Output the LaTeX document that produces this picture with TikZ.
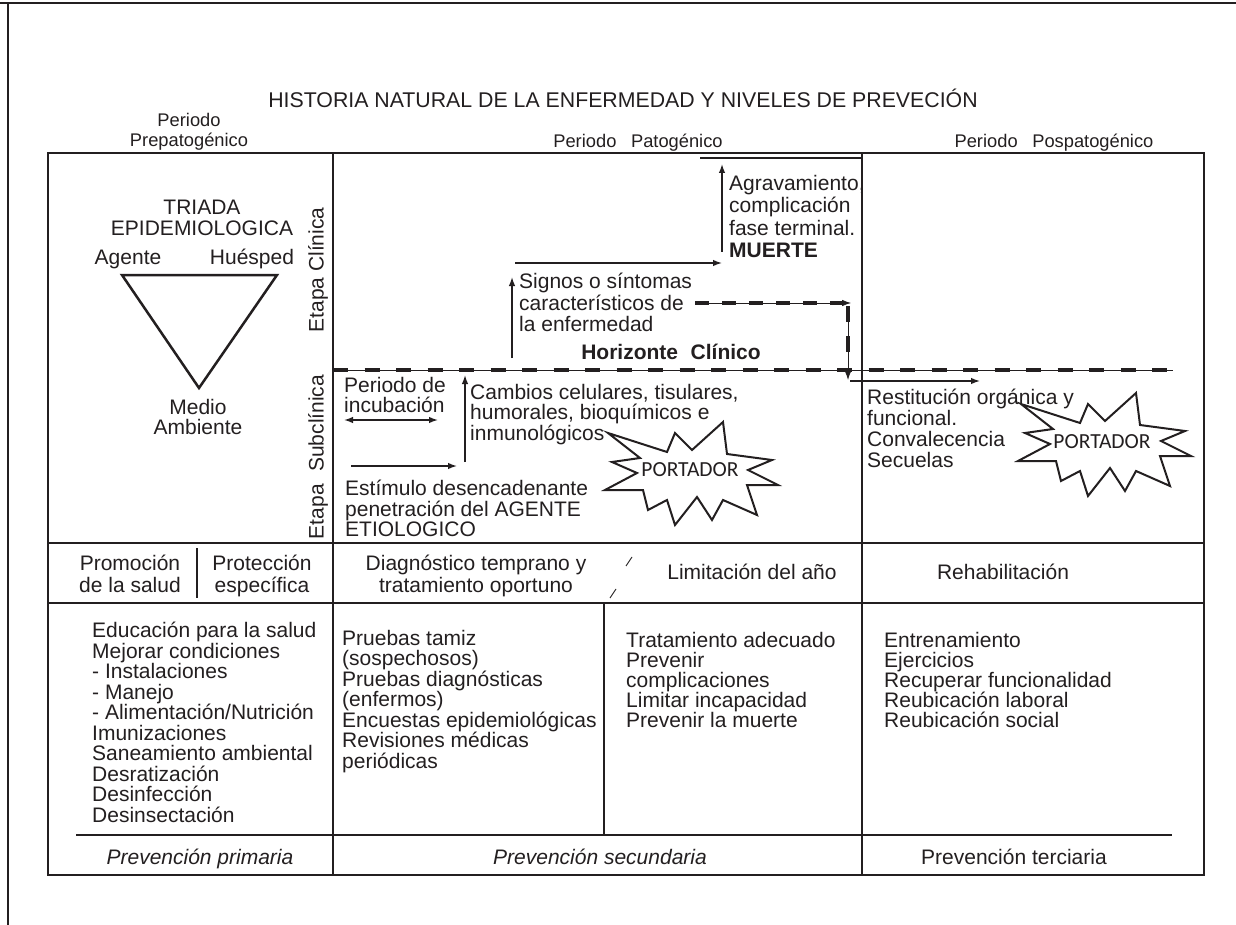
\documentclass[tikz,border=0pt]{standalone}
\usepackage{fontspec}
\setmainfont{Liberation Sans}
\newfontfamily\portfont{Carlito}
\usetikzlibrary{arrows.meta}
\definecolor{ink}{HTML}{231F20}
\tikzset{
  frame/.style={line width=2pt, draw=ink},
  tline/.style={line width=2.2pt, draw=ink},
  body/.style={inner sep=0pt, text=ink, font=\fontsize{21}{20.5}\selectfont},
  bodyl/.style={body, align=left, anchor=north west},
  bodyc/.style={body, align=center, anchor=north},
  bodyb/.style={body, anchor=base},
  head/.style={inner sep=0pt, text=ink, font=\fontsize{18.3}{20}\selectfont},
  tip/.style={-{Latex[length=9pt,width=6.5pt]}},
  arr/.style={draw=ink, line width=1.4pt, tip},
  darr/.style={draw=ink, line width=1.4pt, {Latex[length=9pt,width=6.5pt]}-{Latex[length=9pt,width=6.5pt]}},
  thinln/.style={draw=ink, line width=0.8pt},
  thickdash/.style={draw=ink, line width=4.5pt, dash pattern=on 15pt off 16.5pt},
  starline/.style={draw=ink, line width=2pt, line join=miter},
  portlabel/.style={inner sep=0pt, text=ink, font=\portfont\fontsize{21.5}{22}\selectfont},
  starburst/.pic={\draw[starline] (-83,-40) -- (-24,-21) -- (-16,-40) -- (1,-23) -- (32,-51) -- (36,-19) -- (81,-13) -- (57,-3) -- (87,12) -- (56,12) -- (66,42) -- (32,27) -- (21,47) -- (6,24) -- (-16,52) -- (-24,27) -- (-43,37) -- (-48,17) -- (-86,17) -- (-54,0) -- (-79,-11) -- (-51,-15) -- cycle;}
}
\begin{document}
\begin{tikzpicture}[x=1pt,y=-1pt]
\useasboundingbox[fill=white] (0,0) rectangle (1236,925);
% outer frame
\draw[frame] (0,3) -- (1236,3);
\draw[frame] (8,3) -- (8,925);

% table grid
\draw[tline] (48,153) rectangle (1204,875);
\draw[tline] (333,153) -- (333,875);
\draw[tline] (862,153) -- (862,875);
\draw[tline] (48,543) -- (1204,543);
\draw[tline] (48,603) -- (1204,603);
\draw[tline] (76,835) -- (1172,835);
\draw[tline] (197,548) -- (197,598);
\draw[tline] (604,603) -- (604,835);
\draw[line width=2.5pt, draw=ink] (700,158) -- (862,158);

% header texts
\node[body, font=\fontsize{21.3}{22}\selectfont, anchor=base] (title) at (623,107.5) {HISTORIA NATURAL DE LA ENFERMEDAD Y NIVELES DE PREVECIÓN};
\node[head, align=center, anchor=north] (prepat) at (189,113) {Periodo\\Prepatogénico};
\node[head, anchor=base] (pat) at (638,147.5) {Periodo\hspace{0.8em}Patogénico};
\node[head, anchor=base] (pospat) at (1054,147.5) {Periodo\hspace{0.8em}Pospatogénico};

% triad
\node[bodyc] (triada) at (202,200) {TRIADA\\EPIDEMIOLOGICA};
\node[bodyb] (agente) at (128,264.5) {Agente};
\node[bodyb] (huesped) at (252,264.5) {Huésped};
\draw[draw=ink, line width=2.5pt, line join=miter] (122,275) -- (277,275) -- (199,388) -- cycle;
\node[bodyc] (medio) at (198,399) {Medio\\Ambiente};

% stage labels
\node[body, rotate=90] (eclin) at (318,270) {Etapa Clínica};
\node[body, rotate=90] (esub) at (318,457) {Etapa\hspace{0.6em}Subclínica};

% clinical stage
\node[bodyl, font=\fontsize{21}{22.5}\selectfont] (agrav) at (729,175) {Agravamiento,\\complicación\\fase terminal.\\\textbf{MUERTE}};
\node[bodyl, font=\fontsize{21}{21.5}\selectfont] (signos) at (519,273) {Signos o síntomas\\característicos de\\la enfermedad};
\node[bodyb, font=\bfseries\fontsize{21}{22}\selectfont] (horiz) at (671,359.5) {Horizonte\hspace{0.6em}Clínico};

\coordinate (a1s) at (722,252); \coordinate (a1e) at (722,164);
\draw[arr] (a1s) -- (a1e);
\coordinate (a2s) at (515,263); \coordinate (a2e) at (722,263);
\draw[arr] (a2s) -- (a2e);
\coordinate (a3s) at (512,358); \coordinate (a3e) at (512,277);
\draw[arr] (a3s) -- (a3e);

% dashed arrows
\coordinate (a4s) at (695,303); \coordinate (a4e) at (851,303); \coordinate (a4d) at (842,303);
\draw[thinln, tip] (a4s) -- (a4e);
\draw[thickdash, dash pattern=on 14pt off 13pt] (a4s) -- (a4d);
\coordinate (a5s) at (848,306); \coordinate (a5e) at (848,380); \coordinate (a5d) at (848,362);
\draw[thinln, tip] (a5s) -- (a5e);
\draw[thickdash, dash pattern=on 16pt off 14pt] (a5s) -- (a5d);

% horizonte clinico line
\coordinate (hzs) at (333,370); \coordinate (hze) at (1173,370);
\draw[thinln] (hzs) -- (hze);
\draw[thickdash] (hzs) -- (hze);

% subclinical
\node[bodyl] (incub) at (344,377) {Periodo de\\incubación};
\coordinate (a8s) at (344,420); \coordinate (a8e) at (438,420);
\draw[darr] (a8s) -- (a8e);
\node[bodyl] (cambios) at (470,384) {Cambios celulares, tisulares,\\humorales, bioquímicos e\\inmunológicos};
\coordinate (a7s) at (465,462); \coordinate (a7e) at (465,375);
\draw[arr] (a7s) -- (a7e);
\coordinate (a9s) at (351,466); \coordinate (a9e) at (457,466);
\draw[arr] (a9s) -- (a9e);
\node[bodyl] (estimulo) at (345,480) {Estímulo desencadenante\\penetración del AGENTE\\ETIOLOGICO};

\pic at (691,473) {starburst};
\node[portlabel] (port1) at (690,470) {PORTADOR};

% pospatogenic
\coordinate (a6s) at (850,381); \coordinate (a6e) at (980,381);
\draw[arr] (a6s) -- (a6e);
\node[bodyl, font=\fontsize{21}{21}\selectfont] (restit) at (867,389) {Restitución orgánica y\\funcional.\\Convalecencia\\Secuelas};
\pic at (1104,444) {starburst};
\node[portlabel] (port2) at (1102,442) {PORTADOR};

% header row
\node[bodyc, font=\fontsize{21}{22}\selectfont] (promo) at (130,555) {Promoción\\de la salud};
\node[bodyc, font=\fontsize{21}{22}\selectfont] (protec) at (262,555) {Protección\\específica};
\node[bodyc, font=\fontsize{21}{22}\selectfont] (diag) at (476,555) {Diagnóstico temprano y\\tratamiento oportuno};
\node[bodyb] (limit) at (752,579.5) {Limitación del año};
\node[bodyb] (rehab) at (1003,579.5) {Rehabilitación};
\draw[draw=ink, line width=0.9pt] (626,566) -- (632,557);
\draw[draw=ink, line width=0.9pt] (610,598) -- (616,589);

% contents
\node[bodyl] (prim) at (92,622) {Educación para la salud\\Mejorar condiciones\\- Instalaciones\\- Manejo\\- Alimentación/Nutrición\\Imunizaciones\\Saneamiento ambiental\\Desratización\\Desinfección\\Desinsectación};
\node[bodyl] (sec) at (342,630) {Pruebas tamiz\\(sospechosos)\\Pruebas diagnósticas\\(enfermos)\\Encuestas epidemiológicas\\Revisiones médicas\\periódicas};
\node[bodyl, font=\fontsize{21}{20}\selectfont] (trat) at (626,632) {Tratamiento adecuado\\Prevenir\\complicaciones\\Limitar incapacidad\\Prevenir la muerte};
\node[bodyl, font=\fontsize{21}{20}\selectfont] (ter) at (884,632) {Entrenamiento\\Ejercicios\\Recuperar funcionalidad\\Reubicación laboral\\Reubicación social};

% bottom labels
\node[bodyb, font=\itshape\fontsize{21}{22}\selectfont] (pp) at (200,864.5) {Prevención primaria};
\node[bodyb, font=\itshape\fontsize{21}{22}\selectfont] (ps) at (600,864.5) {Prevención secundaria};
\node[bodyb] (pt) at (1014,864.5) {Prevención terciaria};
\end{tikzpicture}
\end{document}
